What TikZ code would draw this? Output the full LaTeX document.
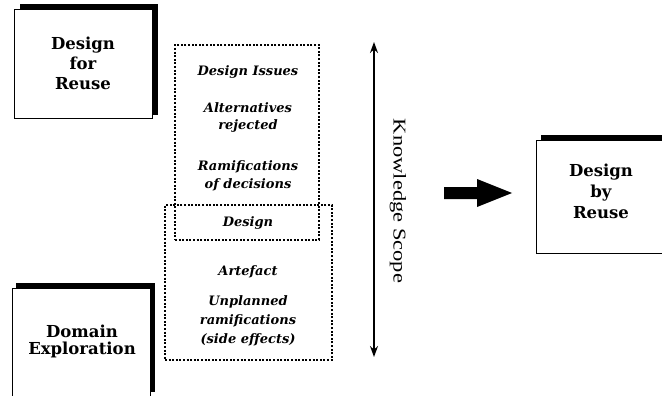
\documentclass[tikz,border=0pt]{standalone}
\usepackage{graphicx}
\usepackage{fontspec}
\newfontfamily\labfont{DejaVu Serif}
\newfontfamily\kfont{Liberation Serif}
\usetikzlibrary{arrows.meta}
\begin{document}
\begin{tikzpicture}[x=1pt,y=-1pt,
  shadowfill/.style={fill=black},
  mainbox/.style={draw=black, fill=white, line width=1pt, inner sep=0pt},
  boxlabel/.style={font=\labfont\bfseries\fontsize{16.5}{20}\selectfont, align=center, inner sep=0pt},
  itemlabel/.style={font=\labfont\bfseries\itshape\fontsize{13}{18}\selectfont, align=center, inner sep=0pt},
  dotbox/.style={draw, line width=2pt, dash pattern=on 2pt off 1.6pt},
  scopearrow/.style={line width=1.4pt, {Stealth[length=11pt,width=8pt]}-{Stealth[length=11pt,width=8pt]}},
]
\useasboundingbox (0,0) rectangle (662,396);
\clip (0,0) rectangle (662,396);

% Design for Reuse
\fill[shadowfill] (20,4) rectangle (158,115);
\node[mainbox, minimum width=138pt, minimum height=109pt] (dfr) at (83,64.5) {};
\node[boxlabel] (dfrtext) at (83,63) {Design\\for\\Reuse};

% Domain Exploration
\fill[shadowfill] (16,283) rectangle (155,392);
\node[mainbox, minimum width=138pt, minimum height=112pt] (dex) at (81,344) {};
\node[boxlabel, font=\labfont\bfseries\fontsize{16.5}{17}\selectfont] (dextext) at (82,341) {Domain\\Exploration};

% Design by Reuse
\fill[shadowfill] (541,135) rectangle (680,248);
\node[mainbox, minimum width=140pt, minimum height=113pt] (dbr) at (606,196.5) {};
\node[boxlabel, font=\labfont\bfseries\fontsize{16.5}{21}\selectfont] (dbrtext) at (601,191) {Design\\by\\Reuse};

% dotted boxes
\node[dotbox, minimum width=144pt, minimum height=195pt] (upper) at (247,142.5) {};
\node[dotbox, minimum width=167pt, minimum height=155pt] (lower) at (248.5,282.5) {};

% items
\node[itemlabel] (issues) at (248,72) {Design Issues};
\node[itemlabel, font=\labfont\bfseries\itshape\fontsize{13}{17}\selectfont] (alts) at (248,118) {Alternatives\\rejected};
\node[itemlabel] (ramif) at (248,176) {Ramifications\\of decisions};
\node[itemlabel] (design) at (248,223) {Design};
\node[itemlabel] (artefact) at (248,272) {Artefact};
\node[itemlabel, font=\labfont\bfseries\itshape\fontsize{13}{19}\selectfont] (unpl) at (248,321) {Unplanned\\ramifications\\(side effects)};

% knowledge scope
\coordinate (ktop) at (374,42);
\coordinate (kbot) at (374,357);
\draw[scopearrow] (ktop) -- (kbot);
\node[rotate=-90, inner sep=0pt] (kscope) at (398,201) {\kfont\fontsize{18}{18}\selectfont\scalebox{1.25}[1]{Knowledge Scope}};

% big arrow
\fill (444,187) -- (477,187) -- (477,179) -- (512,193) -- (477,207) -- (477,199) -- (444,199) -- cycle;
\end{tikzpicture}
\end{document}
